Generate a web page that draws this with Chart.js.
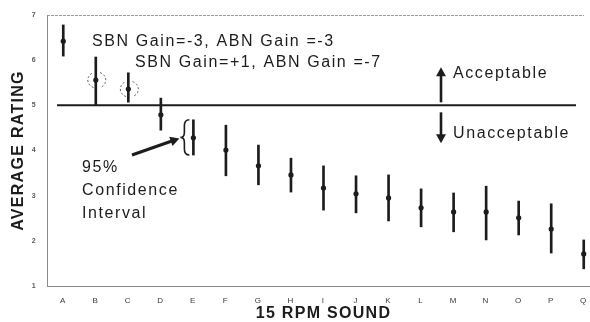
<!DOCTYPE html>
<html>
<head>
<meta charset="utf-8">
<script src="https://cdn.jsdelivr.net/npm/chart.js@4/dist/chart.umd.min.js"></script>
<style>
  html, body { margin: 0; padding: 0; background: #fff; overflow: hidden; }
  #wrap { width: 604px; height: 322px; }
</style>
</head>
<body>
<div id="wrap"><canvas id="c" width="604" height="322"></canvas></div>
<script>
// ---- data ----
const categories = ['A','B','C','D','E','F','G','H','I','J','K','L','M','N','O','P','Q'];
const means = [6.42, 5.56, 5.36, 4.79, 4.28, 4.01, 3.66, 3.46, 3.17, 3.04, 2.95, 2.73, 2.64, 2.64, 2.51, 2.26, 1.71];
const lowerCI = [6.09, 5.00, 5.07, 4.45, 3.90, 3.44, 3.24, 3.08, 2.68, 2.62, 2.44, 2.31, 2.20, 2.02, 2.13, 1.73, 1.38];
const upperCI = [6.78, 6.07, 5.72, 5.16, 4.68, 4.56, 4.12, 3.83, 3.66, 3.44, 3.46, 3.15, 3.06, 3.21, 2.88, 2.82, 2.02];
const yTicks = [1, 2, 3, 4, 5, 6, 7];
const threshold = 5;
const circled = [1, 2];          // categories with dashed circles (B, C)
const braced = 4;                // category with the CI brace (E)

const FONT = '"Liberation Sans", Arial, Helvetica, sans-serif';
const INK = '#1c1c1c';

const annot = {
  id: 'annot',
  beforeDraw(chart) { chart.ctx.letterSpacing = '1.3px'; },
  afterDatasetsDraw(chart) {
    const {ctx, chartArea: ca, scales: {x, y}} = chart;
    ctx.save();
    // top dashed border
    ctx.strokeStyle = '#9a9a9a'; ctx.lineWidth = 1; ctx.setLineDash([3, 1]);
    ctx.beginPath(); ctx.moveTo(ca.left, ca.top + 0.5); ctx.lineTo(ca.right - 16, ca.top + 0.5); ctx.stroke();
    ctx.setLineDash([]);
    // threshold line
    const y5 = y.getPixelForValue(threshold);
    ctx.strokeStyle = INK; ctx.lineWidth = 2;
    ctx.beginPath(); ctx.moveTo(ca.left + 10, y5); ctx.lineTo(ca.right - 24, y5); ctx.stroke();

    // dashed circles
    ctx.strokeStyle = '#555'; ctx.lineWidth = 1; ctx.setLineDash([2, 2]);
    circled.forEach(i => {
      const cx = x.getPixelForValue(i) + 1, cy = y.getPixelForValue(means[i]);
      ctx.beginPath(); ctx.ellipse(cx, cy, 9, 8, 0, Math.PI * 0.62, Math.PI * 1.38); ctx.stroke();
      ctx.beginPath(); ctx.ellipse(cx, cy, 9, 8, 0, -Math.PI * 0.38, Math.PI * 0.38); ctx.stroke();
    });
    ctx.setLineDash([]);

    // brace at E
    const bx = x.getPixelForValue(braced) - 4;
    const bt = y.getPixelForValue(upperCI[braced]), bb = y.getPixelForValue(lowerCI[braced]);
    const bm = (bt + bb) / 2;
    ctx.strokeStyle = INK; ctx.lineWidth = 1.6;
    ctx.beginPath();
    ctx.moveTo(bx, bt);
    ctx.quadraticCurveTo(bx - 5, bt, bx - 5, bt + 6);
    ctx.lineTo(bx - 5, bm - 5);
    ctx.quadraticCurveTo(bx - 5, bm, bx - 9, bm);
    ctx.quadraticCurveTo(bx - 5, bm, bx - 5, bm + 5);
    ctx.lineTo(bx - 5, bb - 6);
    ctx.quadraticCurveTo(bx - 5, bb, bx, bb);
    ctx.stroke();

    // arrows
    function arrow(x0, y0, x1, y1, w, head) {
      const a = Math.atan2(y1 - y0, x1 - x0);
      ctx.lineWidth = w; ctx.strokeStyle = INK; ctx.fillStyle = INK;
      ctx.beginPath(); ctx.moveTo(x0, y0);
      ctx.lineTo(x1 - Math.cos(a) * head * 0.8, y1 - Math.sin(a) * head * 0.8); ctx.stroke();
      ctx.beginPath(); ctx.moveTo(x1, y1);
      ctx.lineTo(x1 - head * Math.cos(a) + head * 0.55 * Math.sin(a), y1 - head * Math.sin(a) - head * 0.55 * Math.cos(a));
      ctx.lineTo(x1 - head * Math.cos(a) - head * 0.55 * Math.sin(a), y1 - head * Math.sin(a) + head * 0.55 * Math.cos(a));
      ctx.closePath(); ctx.fill();
    }
    arrow(132, 155, bx - 10, bm + 1, 3, 9);
    arrow(441, y5 - 3, 441, y5 - 38, 2.6, 9);
    arrow(441, y5 + 7, 441, y5 + 38, 2.6, 9);

    // texts
    ctx.fillStyle = INK; ctx.font = '16px ' + FONT; ctx.textAlign = 'left';
    ctx.textBaseline = 'alphabetic'; ctx.letterSpacing = '1.6px';
    ctx.fillText('SBN Gain=-3, ABN Gain =-3', 92, 46);
    ctx.fillText('SBN Gain=+1, ABN Gain =-7', 135, 67);
    ctx.fillText('Acceptable', 453, 78);
    ctx.fillText('Unacceptable', 453, 138);
    ctx.fillText('95%', 82, 172);
    ctx.fillText('Confidence', 82, 195);
    ctx.fillText('Interval', 82, 218);
    ctx.restore();
  }
};

new Chart(document.getElementById('c'), {
  type: 'bar',
  data: {
    labels: categories,
    datasets: [
      {
        type: 'line',
        data: means,
        showLine: false,
        pointRadius: 2.6,
        pointBackgroundColor: INK,
        pointBorderColor: INK,
        pointBorderWidth: 0,
        order: 0
      },
      {
        type: 'bar',
        data: categories.map((_, i) => [lowerCI[i], upperCI[i]]),
        backgroundColor: INK,
        borderWidth: 0,
        barThickness: 2,
        order: 1
      }
    ]
  },
  options: {
    responsive: false,
    devicePixelRatio: 1,
    animation: false,
    layout: { padding: { top: 15, right: 0, left: 0, bottom: 0 } },
    plugins: { legend: { display: false }, tooltip: { enabled: false } },
    scales: {
      x: {
        offset: true,
        grid: { display: false, drawTicks: false },
        border: { display: true, color: '#8a8a8a', width: 1 },
        ticks: { color: '#3a3a3a', font: { family: FONT, size: 8 }, padding: 10, maxRotation: 0, autoSkip: false },
        title: { display: true, text: '15 RPM SOUND', color: INK, font: { family: FONT, size: 16, weight: 'bold', lineHeight: 1.2 }, padding: { top: 0, bottom: -1 } },
        afterFit(s) { s.height = 36; }
      },
      y: {
        min: 1, max: 7,
        afterBuildTicks(s) { s.ticks = yTicks.map(v => ({ value: v })); },
        grid: { display: false, drawTicks: false },
        border: { display: true, color: '#8a8a8a', width: 1 },
        ticks: { color: '#5a5a5a', font: { family: FONT, size: 7, weight: 'bold' }, padding: 10 },
        title: { display: true, text: 'AVERAGE RATING', color: INK, font: { family: FONT, size: 16, weight: 'bold', lineHeight: 1.2 }, padding: { top: 9, bottom: 0 } },
        afterFit(s) { s.width = 47; }
      }
    }
  },
  plugins: [annot]
});
</script>
</body>
</html>
